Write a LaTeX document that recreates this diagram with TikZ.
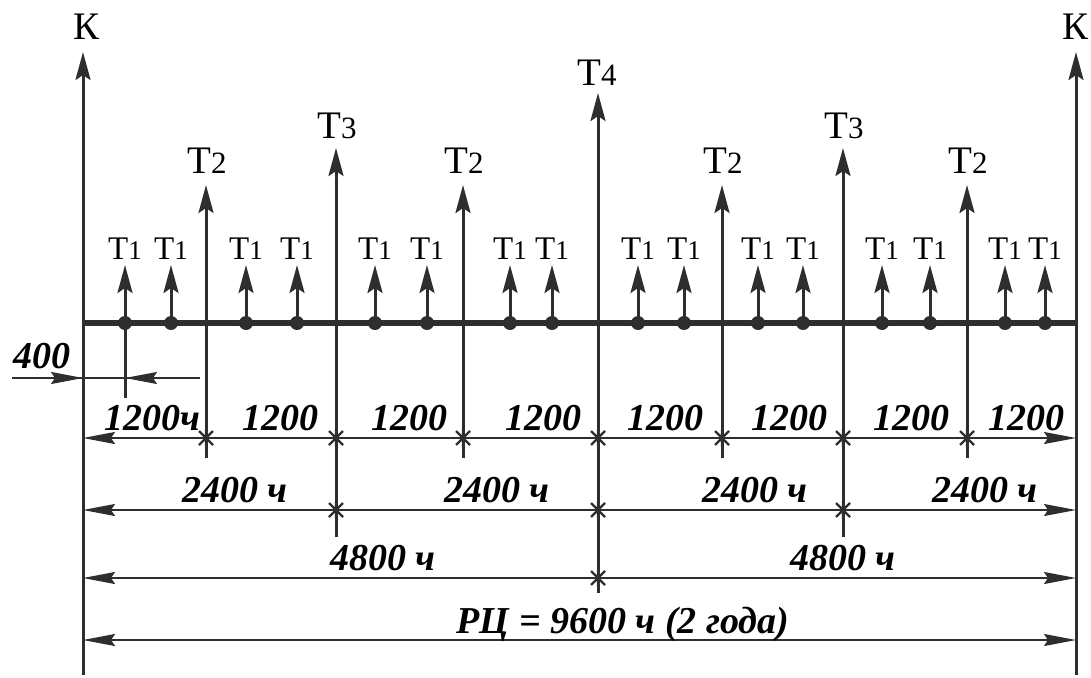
\documentclass[tikz,border=0pt]{standalone}
\usepackage{fontspec}
\setmainfont{Liberation Serif}
\usetikzlibrary{arrows.meta}
\begin{document}
\begin{tikzpicture}[x=1pt,y=-1pt,
  ln/.style={draw=black!82, line width=3pt},
  upar/.style={ln, -{Stealth[length=28pt,width=15pt,inset=5pt]}},
  dimln/.style={draw=black!82, line width=1.8pt},
  dimar/.style={dimln, {Stealth[length=32pt,width=12pt,inset=4pt]}-{Stealth[length=32pt,width=12pt,inset=4pt]}},
  onear/.style={dimln, -{Stealth[length=32pt,width=12pt,inset=4pt]}},
  tlab/.style={font=\fontsize{39}{39}\selectfont, anchor=base, inner sep=0pt},
  tonelab/.style={font=\fontsize{33}{33}\selectfont, anchor=base, inner sep=0pt},
  num/.style={font=\fontsize{38}{38}\selectfont\bfseries\itshape, anchor=base, inner sep=0pt},
  tdot/.style={circle, fill=black!82, minimum size=14pt, inner sep=0pt},
  crossmark/.pic={\draw[draw=black!82, line width=2.2pt] (-7,-7)--(7,7) (-7,7)--(7,-7) (0,-9)--(0,9);}
]
\useasboundingbox (0,0) rectangle (1091,677);

% K lines
\coordinate (kLb) at (83,675); \coordinate (kLt) at (83,52);
\coordinate (kRb) at (1076,675); \coordinate (kRt) at (1076,52);
\draw[upar] (kLb) -- (kLt);
\draw[upar] (kRb) -- (kRt);
\node[tlab] (kL) at (87,40) {К};
\node[tlab] (kR) at (1075,40) {К};

% timeline
\coordinate (tlL) at (83,323); \coordinate (tlR) at (1076,323);
\draw[draw=black!82, line width=5.5pt] (tlL) -- (tlR);

% T1 arrows
\foreach \x [count=\i] in {125,171,246,297,375,427,510,552,638,684,758,803,882,930,1005,1045}{
  \coordinate (a\i b) at (\x,323);
  \coordinate (a\i t) at (\x,265);
  \draw[upar] (a\i b) -- (a\i t);
  \node[tdot] (d\i) at (a\i b) {};
  \node[tonelab] (l\i) at (\x,259) {Т{\fontsize{27}{27}\selectfont 1}};
}
% first T1 line continues downward
\coordinate (a1d) at (125,398);
\draw[ln] (a1b) -- (a1d);

% T2
\foreach \x [count=\i] in {206,463,722,967}{
  \coordinate (b\i b) at (\x,458);
  \coordinate (b\i t) at (\x,185);
  \draw[upar] (b\i b) -- (b\i t);
  \node[tlab] (bl\i) at (\x+1,173) {Т{\fontsize{31}{31}\selectfont 2}};
}
% T3
\foreach \x [count=\i] in {336,843}{
  \coordinate (c\i b) at (\x,537);
  \coordinate (c\i t) at (\x,148);
  \draw[upar] (c\i b) -- (c\i t);
  \node[tlab] (cl\i) at (\x+1,138) {Т{\fontsize{31}{31}\selectfont 3}};
}
% T4
\coordinate (e1b) at (598,593);
\coordinate (e1t) at (598,93);
\draw[upar] (e1b) -- (e1t);
\node[tlab] (el1) at (597,85) {Т{\fontsize{31}{31}\selectfont 4}};

% dimension lines
\coordinate (d1L) at (83,438); \coordinate (d1R) at (1076,438);
\coordinate (d2L) at (83,510); \coordinate (d2R) at (1076,510);
\coordinate (d3L) at (83,578); \coordinate (d3R) at (1076,578);
\coordinate (d4L) at (83,640); \coordinate (d4R) at (1076,640);
\draw[dimar] (d1L) -- (d1R);
\draw[dimar] (d2L) -- (d2R);
\draw[dimar] (d3L) -- (d3R);
\draw[dimar] (d4L) -- (d4R);

% crossing marks
\foreach \x in {206,336,463,598,722,843,967} { \pic at (\x,438) {crossmark}; }
\foreach \x in {336,598,843} { \pic at (\x,510) {crossmark}; }
\pic at (598,578) {crossmark};

% 400 dimension
\coordinate (f0) at (12,378); \coordinate (f1) at (83,378);
\coordinate (f2) at (200,378); \coordinate (f3) at (125,378);
\draw[dimln] (f0) -- (f2);
\draw[onear] (f0) -- (f1);
\draw[onear] (f2) -- (f3);
\node[num] (n400) at (42,368) {400};

% labels
\foreach \x [count=\i] in {280,409,543,665,789,911,1026}{
  \node[num] (m\i) at (\x,430) {1200};
}
\node[num] (m0) at (152,430) {1200ч};
\foreach \x [count=\i] in {235,497,755,985}{
  \node[num] (p\i) at (\x,502) {2400 ч};
}
\foreach \x [count=\i] in {383,843}{
  \node[num] (q\i) at (\x,570) {4800 ч};
}
\node[num] (rc) at (623,633) {РЦ = 9600 ч (2 года)};
\end{tikzpicture}
\end{document}
